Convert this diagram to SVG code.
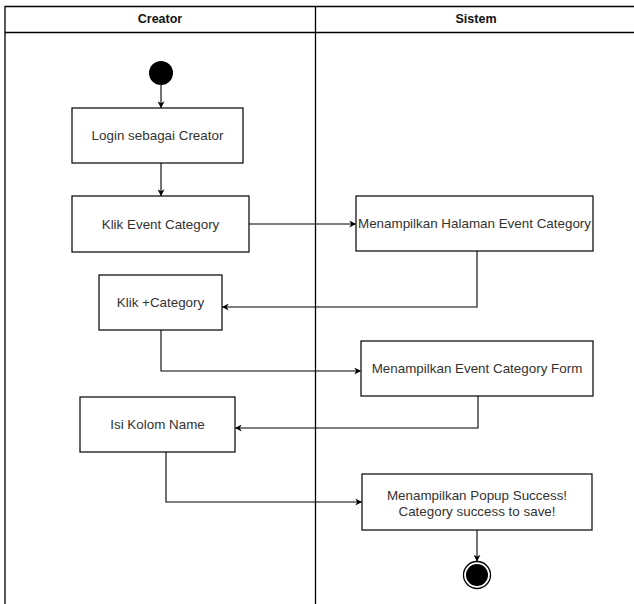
<svg xmlns="http://www.w3.org/2000/svg" width="634" height="604" viewBox="0 0 634 604">
  <style>
    .lane { fill: none; stroke: #000; stroke-width: 1.3; }
    .act { fill: #fff; stroke: #000; stroke-width: 1.2; }
    .lbl { font-family: "Liberation Sans", Arial, sans-serif; font-size: 13.4px; fill: #333; text-anchor: middle; dominant-baseline: central; }
    .hdr { font-family: "Liberation Sans", Arial, sans-serif; font-size: 12.5px; font-weight: bold; fill: #111; text-anchor: middle; dominant-baseline: central; }
    .edge { fill: none; stroke: #000; stroke-width: 1.1; marker-end: url(#arrow); }
  </style>
  <defs>
    <marker id="arrow" viewBox="0 0 10 10" refX="9" refY="5" markerWidth="7" markerHeight="7" markerUnits="userSpaceOnUse" orient="auto">
      <path d="M0,0 L10,5 L0,10 L3,5 Z" fill="#000"/>
    </marker>
  </defs>

  <rect width="634" height="604" fill="#fff"/>

  <!-- swimlanes -->
  <g id="lanes">
    <path class="lane" d="M5,610 V6.5 H640"/>
    <line class="lane" x1="5" y1="32.5" x2="640" y2="32.5"/>
    <line class="lane" x1="315.5" y1="6.5" x2="315.5" y2="610"/>
    <text class="hdr" x="160" y="19">Creator</text>
    <text class="hdr" x="476" y="19">Sistem</text>
  </g>

  <!-- connectors -->
  <g id="connectors">
    <path class="edge" d="M161,85 V107.5"/>
    <path class="edge" d="M161,163 V195.5"/>
    <path class="edge" d="M249,224 H355.5"/>
    <path class="edge" d="M477,251 V307 H222.5"/>
    <path class="edge" d="M161,330 V371 H360.5"/>
    <path class="edge" d="M478,396 V428 H235.5"/>
    <path class="edge" d="M166,452 V502 H361.5"/>
    <path class="edge" d="M477,530 V561"/>
  </g>

  <g id="start">
    <circle cx="161" cy="73" r="12" fill="#000"/>
  </g>

  <g id="login">
    <rect class="act" x="72" y="108" width="171" height="55"/>
    <text class="lbl" x="157.5" y="135.5">Login sebagai Creator</text>
  </g>

  <g id="klik-event-category">
    <rect class="act" x="72" y="196" width="177" height="56"/>
    <text class="lbl" x="160.5" y="224">Klik Event Category</text>
  </g>

  <g id="halaman-event-category">
    <rect class="act" x="356" y="196" width="237" height="55"/>
    <text class="lbl" x="474.5" y="223.5">Menampilkan Halaman Event Category</text>
  </g>

  <g id="klik-add-category">
    <rect class="act" x="99" y="275" width="123" height="55"/>
    <text class="lbl" x="160.5" y="302.5">Klik +Category</text>
  </g>

  <g id="event-category-form">
    <rect class="act" x="361" y="341" width="232" height="55"/>
    <text class="lbl" x="477" y="368.5">Menampilkan Event Category Form</text>
  </g>

  <g id="isi-kolom-name">
    <rect class="act" x="80" y="397" width="155" height="55"/>
    <text class="lbl" x="157.5" y="424.5">Isi Kolom Name</text>
  </g>

  <g id="popup-success">
    <rect class="act" x="362" y="474" width="230" height="56"/>
    <text class="lbl" x="477" y="495">Menampilkan Popup Success!</text>
    <text class="lbl" x="477" y="511">Category success to save!</text>
  </g>

  <g id="end">
    <circle cx="477" cy="575" r="13.5" fill="#fff" stroke="#000" stroke-width="1.3"/>
    <circle cx="477" cy="575" r="11" fill="#000"/>
  </g>
</svg>
